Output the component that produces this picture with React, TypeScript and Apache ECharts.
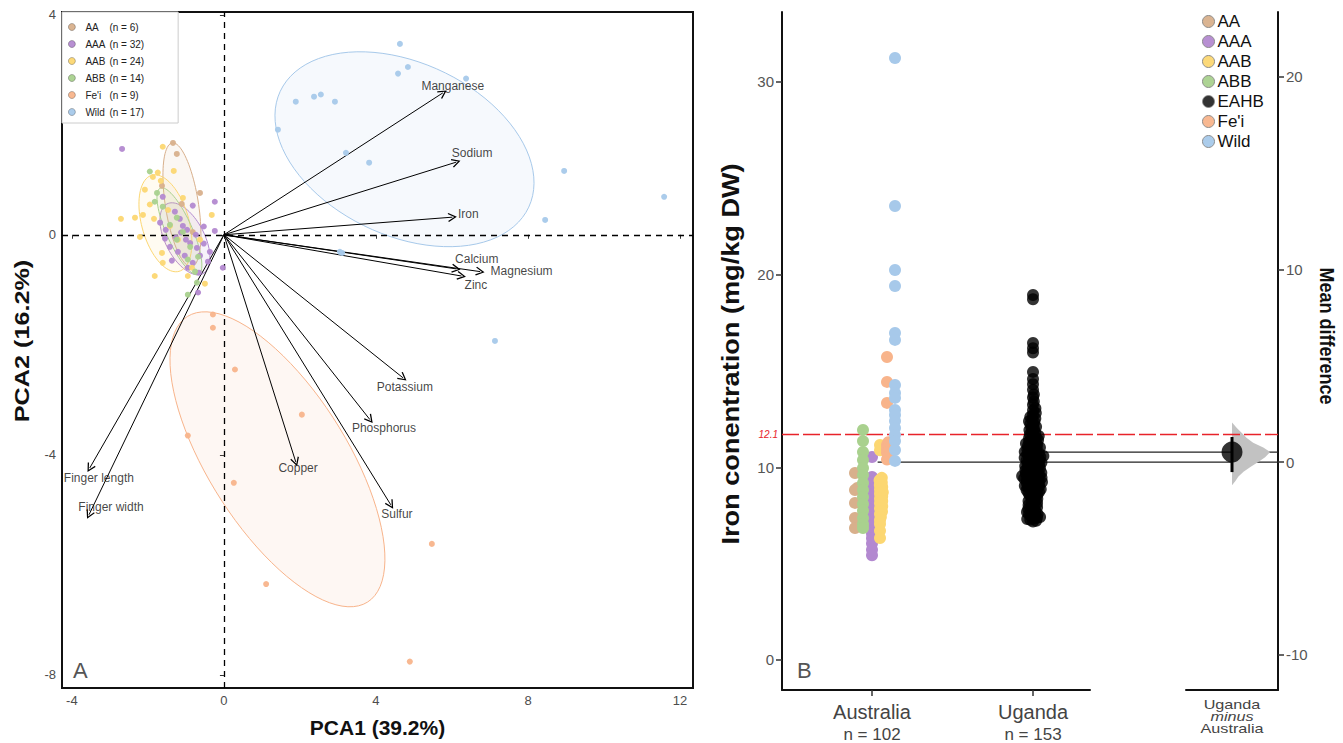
import React, { useEffect, useRef } from "react";
import * as echarts from "echarts";

const FONT = "'Liberation Sans', Arial, Helvetica, sans-serif";

// ---------- groups ----------
const GROUPS = ["AA", "AAA", "AAB", "ABB", "Fe'i", "Wild"];
const GROUP_N = [6, 32, 24, 14, 9, 17];
const GROUP_COLORS = ["#D8B08C", "#B389D0", "#FCD772", "#A9D18E", "#F8B48B", "#A7C9EA"];
const UGANDA_GROUP = "EAHB";
const UGANDA_COLOR = "#000000";

// ---------- panel A: PCA scores ----------
const PCA_AA = [[-1.34, 1.67], [-1.24, 1.47], [-1.63, 0.89], [-0.63, 0.76], [-1.11, 0.56], [-0.82, 0.05]];
const PCA_AAA = [[-2.68, 1.56], [-0.24, 0.6], [-0.82, 0.53], [-1.61, 0.69], [-1.16, 0.29], [-0.53, 0.15], [-0.24, 0.07], [-0.03, -0.6], [-1.68, 0.22], [-1.55, -0.07], [-1.26, -0.05], [-1.13, 0.04], [-0.97, 0.09], [-0.89, -0.15], [-1.21, -0.31], [-0.74, 0.0], [-1.42, -0.22], [-1.03, -0.38], [-0.63, -0.38], [-0.82, -0.51], [-0.42, -0.49], [-0.53, -0.16], [-1.37, -0.47], [-1.08, 0.16], [-0.71, -0.24], [-0.95, -0.6], [-1.53, 0.09], [-0.66, -0.69], [-0.68, -1.05], [-1.29, 0.42], [-0.37, -0.31], [-1.0, -0.09]];
const PCA_AAB = [[-1.61, 1.6], [-1.87, 1.05], [-1.74, 1.13], [-1.66, 0.98], [-1.32, 1.16], [-2.13, 0.36], [-2.34, 0.31], [-2.71, 0.29], [-1.84, 0.29], [-1.08, 0.67], [-0.32, 0.36], [-2.21, -0.04], [-1.63, -0.33], [-1.61, -0.51], [-1.82, -0.75], [-0.95, -0.75], [-0.5, -0.89], [-1.95, 0.55], [-1.47, 0.45], [-1.21, -0.09], [-0.84, -0.6], [-0.63, -0.09], [-2.08, 0.82], [-1.42, 0.16]];
const PCA_ABB = [[-1.95, 1.15], [-1.76, 0.76], [-1.82, 0.6], [-1.61, 0.51], [-1.24, 0.31], [-1.24, -0.09], [-0.89, -0.22], [-0.95, -0.45], [-0.68, -0.4], [-0.76, -0.67], [-0.71, -0.87], [-0.95, -1.09], [-1.42, 0.18], [-1.08, 0.05]];
const PCA_FEI = [[-0.29, -1.45], [-0.29, -1.69], [0.29, -2.45], [2.05, -3.27], [-0.95, -3.65], [0.26, -4.51], [5.47, -5.62], [1.11, -6.35], [4.89, -7.76]];
const PCA_WILD = [[4.63, 3.47], [4.84, 3.05], [4.58, 2.93], [6.37, 2.84], [1.89, 2.42], [2.37, 2.51], [2.55, 2.55], [2.92, 2.42], [1.42, 1.91], [3.21, 1.49], [3.82, 1.31], [8.95, 1.16], [11.58, 0.69], [8.45, 0.27], [3.05, -0.31], [3.11, -0.33], [7.13, -1.93]];
const PCA_SCORES = [PCA_AA, PCA_AAA, PCA_AAB, PCA_ABB, PCA_FEI, PCA_WILD];

// confidence ellipses: centre and two conjugate semi-axis vectors (data units)
const ELLIPSE_CENTER = [[-1.105, 0.545], [-1.026, -0.073], [-1.539, 0.209], [-1.171, 0.064], [1.408, -4.082], [4.75, 1.555]];
const ELLIPSE_U = [[0.255, -1.126], [0.471, -0.634], [0.358, -0.874], [0.501, -0.785], [2.37, -2.596], [3.269, -1.053]];
const ELLIPSE_V = [[-0.43, -0.047], [-0.459, -0.163], [-0.598, -0.117], [-0.313, -0.095], [-1.542, -0.672], [-0.962, -1.425]];

// loadings
const LOADING_NAMES = ["Manganese", "Sodium", "Iron", "Calcium", "Magnesium", "Zinc", "Potassium", "Phosphorus", "Sulfur", "Copper", "Finger length", "Finger width"];
const LOADING_X = [5.76, 6.11, 6.01, 6.11, 6.74, 6.25, 4.71, 3.84, 4.39, 1.89, -3.53, -3.55];
const LOADING_Y = [2.58, 1.32, 0.32, -0.62, -0.67, -0.75, -2.6, -3.36, -4.91, -4.13, -4.24, -5.09];
const LOADING_LABEL_X = [6.02, 6.53, 6.43, 6.65, 7.83, 6.63, 4.76, 4.21, 4.55, 1.95, -3.29, -2.97];
const LOADING_LABEL_Y = [2.71, 1.49, 0.38, -0.44, -0.66, -0.92, -2.76, -3.51, -5.07, -4.24, -4.42, -4.95];

const PCA1_TICKS = [-4, 0, 4, 8, 12];
const PCA2_TICKS = [-8, -4, 0, 4];

// ---------- panel B: iron concentration ----------
const CATEGORIES = ["Australia", "Uganda"];
const CATEGORY_N = [102, 153];
const IRON_AA = [9.7, 8.93, 8.82, 8.15, 7.37, 6.85];
const IRON_AAA = [10.53, 9.5, 9.38, 9.27, 9.12, 9.03, 8.91, 8.84, 8.72, 8.6, 8.55, 8.43, 8.31, 8.24, 8.1, 8.02, 7.93, 7.81, 7.74, 7.6, 7.52, 7.41, 7.3, 7.18, 7.05, 6.92, 6.71, 6.55, 6.32, 6.05, 5.72, 5.43];
const IRON_AAB = [11.16, 11.02, 10.88, 9.45, 9.33, 9.21, 9.08, 8.97, 8.85, 8.7, 8.62, 8.49, 8.37, 8.25, 8.13, 7.98, 7.86, 7.71, 7.58, 7.42, 7.26, 7.05, 6.7, 6.33];
const IRON_ABB = [11.94, 11.36, 10.79, 10.38, 9.96, 9.6, 9.19, 8.82, 8.46, 8.1, 7.74, 7.37, 7.06, 6.85];
const IRON_FEI = [15.72, 14.43, 13.34, 11.3, 11.15, 10.95, 10.75, 10.55, 10.4];
const IRON_WILD = [31.24, 23.56, 20.24, 19.41, 16.97, 16.61, 14.27, 13.86, 13.6, 12.97, 12.71, 12.4, 12.04, 11.68, 11.36, 10.9, 10.33];
const IRON_AUSTRALIA = [IRON_AA, IRON_AAA, IRON_AAB, IRON_ABB, IRON_FEI, IRON_WILD];
const IRON_UGANDA = [
  18.94, 18.72, 16.45, 16.18, 15.96, 14.95, 14.58, 14.31, 14.02, 13.78, 13.62,
  13.41, 13.25, 13.07, 12.96, 12.82, 12.74, 12.61, 12.53,
  12.48, 12.39, 12.35, 12.24, 12.19, 12.1, 12.06, 11.97, 11.93, 11.84, 11.8, 11.71, 11.68, 11.62, 11.56, 11.52,
  11.49, 11.42, 11.4, 11.33, 11.31, 11.24, 11.2, 11.17, 11.11, 11.09, 11.03, 11.02, 10.96, 10.94, 10.88, 10.86, 10.81, 10.79, 10.73, 10.72, 10.66, 10.64, 10.59, 10.58, 10.54, 10.5,
  10.49, 10.44, 10.43, 10.38, 10.37, 10.32, 10.31, 10.26, 10.25, 10.2, 10.19, 10.14, 10.13, 10.08, 10.07, 10.02, 10.01, 9.96, 9.95, 9.9, 9.89, 9.84, 9.83, 9.78, 9.77, 9.72, 9.71, 9.66, 9.65, 9.6, 9.59, 9.55, 9.53, 9.51,
  9.48, 9.46, 9.42, 9.41, 9.37, 9.34, 9.32, 9.28, 9.25, 9.23, 9.19, 9.17, 9.13, 9.1, 9.08, 9.04, 9.01, 8.98, 8.95, 8.92, 8.88, 8.86, 8.82, 8.79, 8.75, 8.72, 8.68, 8.63, 8.58, 8.53,
  8.47, 8.41, 8.36, 8.3, 8.25, 8.21, 8.15, 8.1, 8.04, 7.99, 7.93, 7.88, 7.84, 7.79, 7.73, 7.68, 7.64, 7.58, 7.55, 7.51,
  7.46, 7.42, 7.38, 7.34, 7.31, 7.27, 7.22, 7.18,
];
const GROUP_MEANS = [10.27, 10.79]; // Australia, Uganda (horizontal summary lines)
const MEAN_DIFF = 0.52;
const MEAN_DIFF_CI = [-0.52, 1.3];
const BOOT_DIFF = [-1.2, -1.0, -0.75, -0.5, -0.25, 0, 0.25, 0.52, 0.75, 1.0, 1.25, 1.5, 1.75, 2.05];
const BOOT_DENSITY = [0, 0.07, 0.14, 0.25, 0.4, 0.57, 0.72, 0.83, 0.68, 0.46, 0.32, 0.22, 0.11, 0];
const THRESHOLD_VALUE = 11.7;
const THRESHOLD_LABEL = "12.1";
const IRON_TICKS = [0, 10, 20, 30];
const DIFF_TICKS = [-10, 0, 10, 20];
const DIFF_LABEL_LINES = ["Uganda", "minus", "Australia"];

// ---------- layout ----------
const GRID_TOP = 12;
const GRID_H = 678;
const A_LEFT = 62, A_W = 631;
const B_LEFT = 782, B_W = 308;
const C_LEFT = 1186, C_W = 92;
const XA = [-4.26, 12.34], YA = [-8.24, 4.05];
const XB = [0.441, 2.354], YB = [-1.56, 33.63];
const XC = [-1, 1], YC = [-11.83, 23.36];
const PX_PER_X_B = B_W / (XB[1] - XB[0]);
const XD = [XB[0], XB[0] + (C_LEFT + C_W - B_LEFT) / PX_PER_X_B];
const PX_PER_Y_B = GRID_H / (YB[1] - YB[0]);
const GROUP_OFFSET_PX = [-17, 0, 8, -9, 15, 23];
const COLLIDE_PX = 3.2;
const ARROW_HEAD = "path://M5,0 L10,9 L8.8,9.8 L5,2.8 L1.2,9.8 L0,9 Z";

function swarm(values: number[]): number[] {
  const order = values.map((_, i) => i).sort((a, b) => values[a] - values[b]);
  const placed: { x: number; y: number }[] = [];
  const out = new Array(values.length).fill(0);
  const c2 = COLLIDE_PX * COLLIDE_PX;
  for (const i of order) {
    const y = values[i] * PX_PER_Y_B;
    const near = placed.filter((p) => Math.abs(p.y - y) < COLLIDE_PX);
    const cands = [0];
    for (const p of near) {
      const dx = Math.sqrt(c2 - (p.y - y) ** 2);
      cands.push(p.x + dx, p.x - dx);
    }
    cands.sort((a, b) => Math.abs(a) - Math.abs(b));
    let chosen = 0;
    for (const cx of cands) {
      if (near.every((p) => (p.x - cx) ** 2 + (p.y - y) ** 2 >= c2 - 1e-6)) {
        chosen = cx;
        break;
      }
    }
    placed.push({ x: chosen, y });
    out[i] = chosen;
  }
  return out;
}

function rgba(hex: string, a: number) {
  const n = parseInt(hex.slice(1), 16);
  return `rgba(${(n >> 16) & 255},${(n >> 8) & 255},${n & 255},${a})`;
}

function vText(text: string, x: number, y: number, size: number, stretch: number, rot: number) {
  return {
    type: "text",
    x,
    y,
    rotation: rot,
    scaleX: stretch,
    silent: true,
    style: {
      text,
      fontSize: size,
      fontWeight: "bold",
      fontFamily: FONT,
      fill: "#111",
      align: "center",
      verticalAlign: "middle",
      textAlign: "center",
      textVerticalAlign: "middle",
    },
  };
}

function buildOption() {
  const series: any[] = [];

  // ellipses
  GROUPS.forEach((g, gi) => {
    const c = ELLIPSE_CENTER[gi], u = ELLIPSE_U[gi], v = ELLIPSE_V[gi];
    series.push({
      type: "custom",
      name: "ellipse " + g,
      xAxisIndex: 0,
      yAxisIndex: 0,
      silent: true,
      z: 1,
      data: [c],
      renderItem: (_p: any, api: any) => {
        const pts: number[][] = [];
        for (let k = 0; k <= 90; k++) {
          const t = (k / 90) * Math.PI * 2;
          pts.push(api.coord([c[0] + u[0] * Math.cos(t) + v[0] * Math.sin(t), c[1] + u[1] * Math.cos(t) + v[1] * Math.sin(t)]));
        }
        return {
          type: "polygon",
          shape: { points: pts },
          style: { fill: rgba(GROUP_COLORS[gi], 0.1), stroke: GROUP_COLORS[gi], lineWidth: 1 },
        };
      },
    });
  });

  // loadings arrows
  series.push({
    type: "lines",
    name: "loadings",
    coordinateSystem: "cartesian2d",
    xAxisIndex: 0,
    yAxisIndex: 0,
    silent: true,
    z: 3,
    symbol: ["none", ARROW_HEAD],
    symbolSize: [8, 9],
    lineStyle: { color: "#000", width: 1, opacity: 1 },
    data: LOADING_NAMES.map((_, i) => ({ coords: [[0, 0], [LOADING_X[i], LOADING_Y[i]]] })),
  });

  // loadings labels + zero dashed lines
  series.push({
    type: "scatter",
    name: "loading labels",
    xAxisIndex: 0,
    yAxisIndex: 0,
    silent: true,
    z: 4,
    symbolSize: 0,
    data: LOADING_NAMES.map((n, i) => ({ value: [LOADING_LABEL_X[i], LOADING_LABEL_Y[i]], name: n })),
    label: {
      show: true,
      position: "inside",
      formatter: (p: any) => p.name,
      color: "#111",
      fontSize: 12,
      fontFamily: FONT,
    },
    markLine: {
      silent: true,
      symbol: ["none", "none"],
      label: { show: false },
      lineStyle: { color: "#000", type: [6, 5], width: 1.3 },
      data: [{ xAxis: 0 }, { yAxis: 0 }],
    },
  });

  // PCA points
  GROUPS.forEach((g, gi) => {
    series.push({
      type: "scatter",
      name: g,
      xAxisIndex: 0,
      yAxisIndex: 0,
      z: 5,
      symbolSize: 6,
      itemStyle: { color: GROUP_COLORS[gi], opacity: 0.95 },
      data: PCA_SCORES[gi],
    });
  });

  // panel B: Australia swarm per group
  GROUPS.forEach((g, gi) => {
    const vals = IRON_AUSTRALIA[gi];
    const off = swarm(vals);
    series.push({
      type: "scatter",
      name: g,
      xAxisIndex: 1,
      yAxisIndex: 1,
      z: 5,
      symbolSize: 12,
      itemStyle: { color: GROUP_COLORS[gi], opacity: 1 },
      data: vals.map((v, i) => [1 + (GROUP_OFFSET_PX[gi] + off[i]) / PX_PER_X_B, v]),
    });
  });
  {
    const off = swarm(IRON_UGANDA);
    series.push({
      type: "scatter",
      name: UGANDA_GROUP,
      xAxisIndex: 1,
      yAxisIndex: 1,
      z: 5,
      symbolSize: 12,
      itemStyle: { color: UGANDA_COLOR },
      data: IRON_UGANDA.map((v, i) => [2 + off[i] / PX_PER_X_B, v]),
    });
  }

  // mean lines (overlay grid D)
  GROUP_MEANS.forEach((m, i) => {
    series.push({
      type: "line",
      name: "mean " + CATEGORIES[i],
      xAxisIndex: 3,
      yAxisIndex: 3,
      silent: true,
      z: 3,
      symbol: "none",
      lineStyle: { color: "#222", width: 1.2 },
      data: [[i + 1 + 0.035, m], [XD[1], m]],
    });
  });
  // threshold
  series.push({
    type: "line",
    name: "threshold",
    xAxisIndex: 3,
    yAxisIndex: 3,
    silent: true,
    z: 8,
    symbol: "none",
    data: [],
    markLine: {
      silent: true,
      symbol: ["none", "none"],
      lineStyle: { color: "#E8232A", type: [17, 4], width: 1.4 },
      label: {
        show: true,
        position: "start",
        formatter: THRESHOLD_LABEL,
        color: "#E8232A",
        fontStyle: "italic",
        fontSize: 10,
        fontFamily: FONT,
        distance: 4,
      },
      data: [{ yAxis: THRESHOLD_VALUE }],
    },
  });

  // bootstrap distribution (half violin)
  series.push({
    type: "custom",
    name: "bootstrap",
    xAxisIndex: 2,
    yAxisIndex: 2,
    silent: true,
    z: 4,
    data: [[0, MEAN_DIFF]],
    renderItem: (_p: any, api: any) => {
      const pts: number[][] = [api.coord([0, BOOT_DIFF[0]])];
      BOOT_DIFF.forEach((d, i) => pts.push(api.coord([BOOT_DENSITY[i], d])));
      pts.push(api.coord([0, BOOT_DIFF[BOOT_DIFF.length - 1]]));
      return { type: "polygon", shape: { points: pts }, style: { fill: "#c2c2c2", stroke: "none" } };
    },
  });
  series.push({
    type: "line",
    name: "ci",
    xAxisIndex: 2,
    yAxisIndex: 2,
    silent: true,
    z: 6,
    symbol: "none",
    lineStyle: { color: "#000", width: 3 },
    data: [[0, MEAN_DIFF_CI[0]], [0, MEAN_DIFF_CI[1]]],
  });
  series.push({
    type: "scatter",
    name: "effect",
    xAxisIndex: 2,
    yAxisIndex: 2,
    silent: true,
    z: 7,
    symbolSize: 21,
    itemStyle: { color: "#000" },
    data: [[0, MEAN_DIFF]],
  });

  const tickLabel = (size: number, color = "#4d4d4d") => ({ color, fontSize: size, fontFamily: FONT });
  const bold = (size: number) => ({ color: "#111", fontSize: size, fontWeight: "bold", fontFamily: FONT });

  return {
    animation: false,
    backgroundColor: "#fff",
    textStyle: { fontFamily: FONT },
    grid: [
      { left: A_LEFT, top: GRID_TOP, width: A_W, height: GRID_H, show: true, borderColor: "#111", borderWidth: 2, backgroundColor: "transparent" },
      { left: B_LEFT, top: GRID_TOP, width: B_W, height: GRID_H },
      { left: C_LEFT, top: GRID_TOP, width: C_W, height: GRID_H },
      { left: B_LEFT, top: GRID_TOP, width: C_LEFT + C_W - B_LEFT, height: GRID_H },
    ],
    xAxis: [
      {
        type: "value", gridIndex: 0, min: XA[0], max: XA[1],
        axisLine: { show: false },
        axisTick: { show: true, customValues: PCA1_TICKS, length: 4, lineStyle: { color: "#333" } },
        axisLabel: { customValues: PCA1_TICKS, margin: 6, ...tickLabel(13) },
        splitLine: { show: false },
        name: "PCA1 (39.2%)", nameLocation: "middle", nameGap: 29, nameTextStyle: bold(21),
      },
      {
        type: "value", gridIndex: 1, min: XB[0], max: XB[1],
        axisLine: { show: true, onZero: false, lineStyle: { color: "#111", width: 2 } },
        axisTick: { show: true, customValues: [1, 2], length: 6, lineStyle: { color: "#333", width: 1.5 } },
        axisLabel: {
          customValues: [1, 2], margin: 10,
          formatter: (v: number) => {
            const i = Math.round(v) - 1;
            return `{a|${CATEGORIES[i]}}\n{b|n = ${CATEGORY_N[i]}}`;
          },
          rich: {
            a: { fontSize: 20, color: "#444", fontFamily: FONT, lineHeight: 24 },
            b: { fontSize: 17, color: "#444", fontFamily: FONT, lineHeight: 20 },
          },
        },
        splitLine: { show: false },
      },
      {
        type: "value", gridIndex: 2, min: XC[0], max: XC[1],
        axisLine: { show: true, onZero: false, lineStyle: { color: "#111", width: 2 } },
        axisTick: { show: false },
        axisLabel: { show: false },
        splitLine: { show: false },
      },
      { type: "value", gridIndex: 3, min: XD[0], max: XD[1], show: false },
    ],
    yAxis: [
      {
        type: "value", gridIndex: 0, min: YA[0], max: YA[1],
        axisLine: { show: false },
        axisTick: { show: true, customValues: PCA2_TICKS, length: 4, lineStyle: { color: "#333" } },
        axisLabel: { customValues: PCA2_TICKS, margin: 6, ...tickLabel(13) },
        splitLine: { show: false },
      },
      {
        type: "value", gridIndex: 1, min: YB[0], max: YB[1], position: "left",
        axisLine: { show: true, onZero: false, lineStyle: { color: "#111", width: 2 } },
        axisTick: { show: true, customValues: IRON_TICKS, length: 6, lineStyle: { color: "#333", width: 1.5 } },
        axisLabel: { customValues: IRON_TICKS, margin: 8, ...tickLabel(15, "#555") },
        splitLine: { show: false },
      },
      {
        type: "value", gridIndex: 2, min: YC[0], max: YC[1], position: "right",
        axisLine: { show: true, onZero: false, lineStyle: { color: "#111", width: 2 } },
        axisTick: { show: true, customValues: DIFF_TICKS, length: 6, lineStyle: { color: "#333", width: 1.5 } },
        axisLabel: { customValues: DIFF_TICKS, margin: 8, ...tickLabel(15, "#555") },
        splitLine: { show: false },
      },
      { type: "value", gridIndex: 3, min: YB[0], max: YB[1], show: false },
    ],
    legend: [
      {
        orient: "vertical",
        left: A_LEFT,
        top: GRID_TOP,
        padding: [10, 34, 6, 6],
        itemGap: 7,
        itemWidth: 7,
        itemHeight: 7,
        icon: "circle",
        borderColor: "#ccc",
        borderWidth: 1,
        backgroundColor: "#fff",
        itemStyle: { borderColor: "rgba(0,0,0,0.35)", borderWidth: 0.8 },
        data: GROUPS,
        formatter: (name: string) => `{n|${name}}{c|(n = ${GROUP_N[GROUPS.indexOf(name)]})}`,
        textStyle: {
          rich: {
            n: { fontSize: 10, color: "#222", width: 24, padding: [0, 0, 0, 5], fontFamily: FONT },
            c: { fontSize: 10, color: "#222", fontFamily: FONT },
          },
        },
      },
      {
        orient: "vertical",
        left: 1202,
        top: GRID_TOP + 1,
        padding: 0,
        itemGap: 3,
        itemWidth: 12,
        itemHeight: 12,
        icon: "circle",
        itemStyle: { borderColor: "#888", borderWidth: 1 },
        data: ["AA", "AAA", "AAB", "ABB", UGANDA_GROUP, "Fe'i", "Wild"],
        textStyle: { fontSize: 17, color: "#111", fontFamily: FONT, lineHeight: 17, padding: [0, 0, 0, -2] },
      },
    ],
    graphic: [
      { type: "text", left: 73, top: 659, style: { text: "A", fontSize: 22, fill: "#555", fontFamily: FONT } },
      { type: "text", left: 797, top: 659, style: { text: "B", fontSize: 22, fill: "#555", fontFamily: FONT } },
      vText("PCA2 (16.2%)", 22, 341, 21, 1.2, Math.PI / 2),
      vText("Iron conentration (mg/kg DW)", 731, 354, 23, 1.18, Math.PI / 2),
      vText("Mean difference", 1327, 336, 20, 0.9, -Math.PI / 2),
      ...DIFF_LABEL_LINES.map((t, i) => ({
        type: "text",
        x: 1232,
        y: 705 + i * 11.7,
        scaleX: 1.35,
        silent: true,
        style: {
          text: t,
          fontSize: 12,
          fontStyle: i === 1 ? "italic" : "normal",
          fontFamily: FONT,
          fill: "#444",
          align: "center",
          verticalAlign: "middle",
          textAlign: "center",
          textVerticalAlign: "middle",
        },
      })),
    ],
    series,
  };
}

export default function App() {
  const ref = useRef<HTMLDivElement>(null);
  useEffect(() => {
    if (!ref.current) return;
    const chart = echarts.init(ref.current, undefined, { renderer: "svg" });
    chart.setOption(buildOption() as any);
    return () => chart.dispose();
  }, []);
  return <div ref={ref} style={{ position: "fixed", left: 0, top: 0, width: 1343, height: 743 }} />;
}
